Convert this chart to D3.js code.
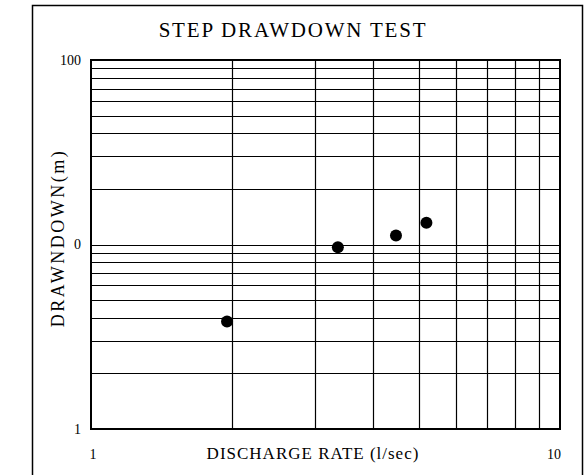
<!DOCTYPE html>
<html><head><meta charset="utf-8">
<script src="https://cdn.jsdelivr.net/npm/d3@7"></script>
<style>body{margin:0;background:#fff}svg{display:block}</style>
</head><body>
<script>
const title = "STEP DRAWDOWN TEST";
const xTitle = "DISCHARGE RATE (l/sec)";
const yTitle = "DRAWNDOWN(m)";
const dischargeRate = [1.95, 3.36, 4.47, 5.19];
const drawdown = [3.83, 9.67, 11.2, 13.1];
const xTickValues = [1, 10];
const xTickLabels = ["1", "10"];
const yTickValues = [1, 10, 100];
const yTickLabels = ["1", "0", "100"];

const W = 584, H = 475;
const m = {left: 91, right: 24, top: 60, bottom: 46};
const svg = d3.select("body").append("svg").attr("width", W).attr("height", H);
const font = "'Liberation Serif', 'DejaVu Serif', serif";

// outer frame
svg.append("path").attr("d", `M32.5,${H+2} V5.5 H582.5 V${H+2}`)
  .attr("fill","none").attr("stroke","#000").attr("stroke-width",1.5);

const x = d3.scaleLog().domain([1,10]).range([m.left, W - m.right]);
const y = d3.scaleLog().domain([1,100]).range([H - m.bottom, m.top]);

const g = svg.append("g");
// grid
const xMinor = d3.range(2,10);
const yMinor = [];
[1,10].forEach(d => d3.range(2,10).forEach(k => yMinor.push(d*k)));
yMinor.push(10);
g.selectAll(".vg").data(xMinor).join("line")
  .attr("x1", d => Math.round(x(d))+0.5).attr("x2", d => Math.round(x(d))+0.5)
  .attr("y1", y(100)).attr("y2", y(1))
  .attr("stroke","#000").attr("stroke-width",1.2);
g.selectAll(".hg").data(yMinor).join("line")
  .attr("y1", d => Math.round(y(d))+0.5).attr("y2", d => Math.round(y(d))+0.5)
  .attr("x1", x(1)).attr("x2", x(10))
  .attr("stroke","#000").attr("stroke-width",1.2);
// plot border
svg.append("rect").attr("x", x(1)).attr("y", y(100))
  .attr("width", x(10)-x(1)).attr("height", y(1)-y(100))
  .attr("fill","none").attr("stroke","#000").attr("stroke-width",2);

// points
svg.selectAll(".pt").data(dischargeRate).join("circle")
  .attr("cx", (d,i) => x(d)).attr("cy", (d,i) => y(drawdown[i]))
  .attr("r", 6).attr("fill","#000");

// tick labels
svg.selectAll(".yl").data(yTickValues).join("text")
  .attr("x", 81).attr("y", d => y(d)).attr("dy","0.35em")
  .attr("text-anchor","end").attr("font-family",font).attr("font-size",14)
  .text((d,i) => yTickLabels[i]);
svg.selectAll(".xl").data(xTickValues).join("text")
  .attr("x", (d,i) => i===0 ? x(d)+2 : x(d)-6).attr("y", H - m.bottom + 30)
  .attr("text-anchor","middle").attr("font-family",font).attr("font-size",14)
  .text((d,i) => xTickLabels[i]);

// titles
svg.append("text").attr("x", 293).attr("y", 37).attr("text-anchor","middle")
  .attr("font-family",font).attr("font-size",21).attr("letter-spacing",1.8).text(title);
svg.append("text").attr("x", 313).attr("y", H - m.bottom + 30).attr("text-anchor","middle")
  .attr("font-family",font).attr("font-size",17).attr("letter-spacing",1).text(xTitle);
svg.append("text").attr("transform", `translate(64,238) rotate(-90)`).attr("text-anchor","middle")
  .attr("font-family",font).attr("font-size",18).attr("letter-spacing",2.5).text(yTitle);
</script>
</body></html>
